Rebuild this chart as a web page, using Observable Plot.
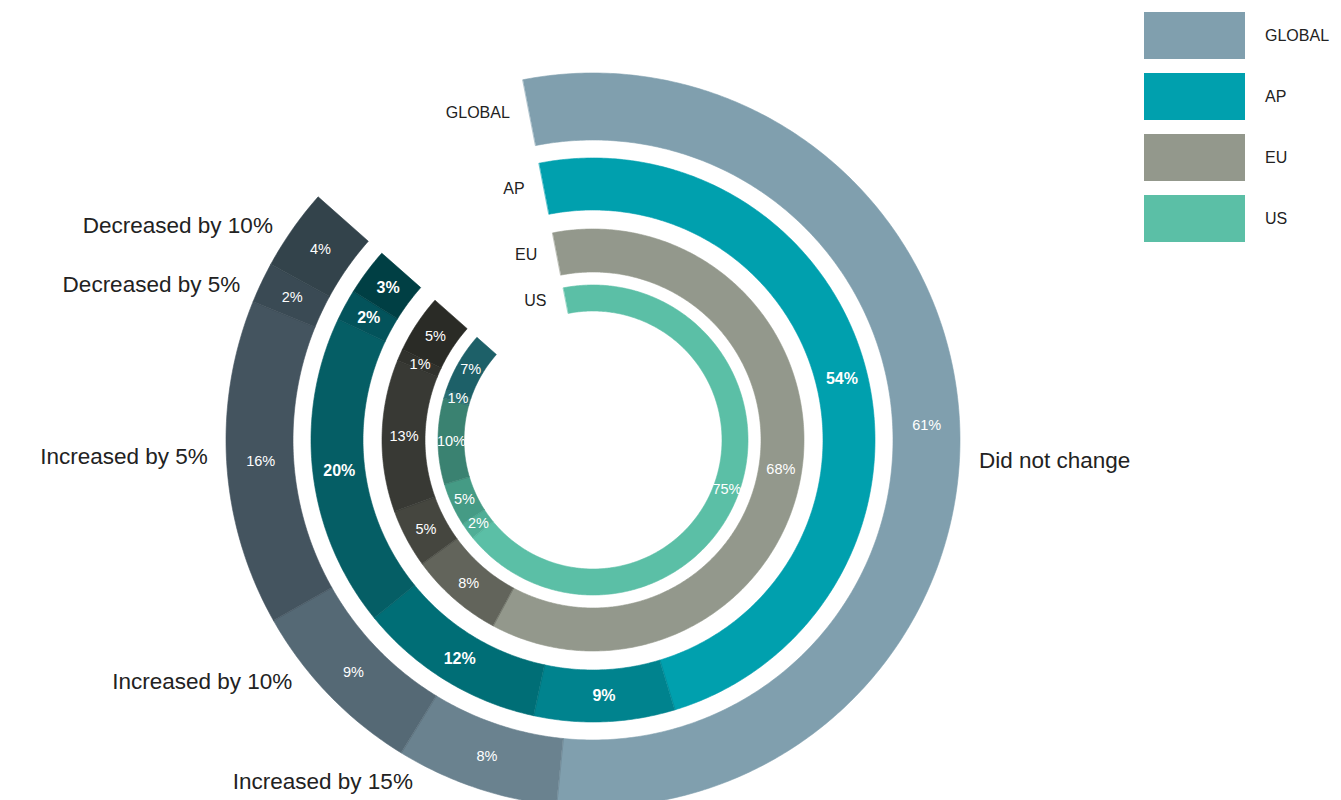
<!DOCTYPE html>
<html>
<head>
<meta charset="utf-8">
<script src="https://cdn.jsdelivr.net/npm/d3@7"></script>
<script src="https://cdn.jsdelivr.net/npm/@observablehq/plot@0.6"></script>
<style>
  body { margin: 0; background: #fff; font-family: "Liberation Sans", Arial, sans-serif; }
  #wrap { position: relative; width: 1341px; height: 800px; overflow: hidden; }
  #legend { position: absolute; left: 1144px; top: 12px; }
  .li { display: flex; align-items: center; height: 47px; margin-bottom: 14px; }
  .sw { width: 101px; height: 47px; }
  .lt { margin-left: 20px; font-size: 16px; color: #222; }
</style>
</head>
<body>
<div id="wrap"><div id="chart"></div><div id="legend"></div></div>
<script>
// ---- data ----
const regions = ["GLOBAL", "AP", "EU", "US"];
const categories = ["Did not change", "Increased by 15%", "Increased by 10%", "Increased by 5%", "Decreased by 5%", "Decreased by 10%"];
const globalValues = [61, 8, 9, 16, 2, 4];
const apValues     = [54, 9, 12, 20, 2, 3];
const euValues     = [68, 8, 5, 13, 1, 5];
const usValues     = [75, 2, 5, 10, 1, 7];

// ---- styles ----
const regionColors = ["#809fae", "#00a0ae", "#93988c", "#5bbfa6"];
const shades = {
  GLOBAL: ["#809fae", "#6a828f", "#556975", "#44545f", "#3a4a54", "#33434b"],
  AP:     ["#00a0ae", "#00838e", "#006e76", "#055e65", "#03535b", "#003f44"],
  EU:     ["#93988c", "#62645b", "#45463f", "#383934", "#31322d", "#2a2b26"],
  US:     ["#5bbfa6", "#50ae96", "#459b85", "#3a8271", "#2a6e71", "#1d6068"]
};
const ringRadii = { GLOBAL: [300, 367], AP: [230, 282], EU: [168, 211], US: [129, 155] };
const cx = 593, cy = 440, W = 1341, H = 800;

const valuesByRegion = [globalValues, apValues, euValues, usValues];
const angle = d3.scaleLinear().domain([0, 100]).range([-11 * Math.PI / 180, 311.5 * Math.PI / 180]);

const segments = [];
regions.forEach((reg, i) => {
  let cum = 0;
  valuesByRegion[i].forEach((v, j) => {
    segments.push({ region: reg, category: categories[j], value: v, start: cum, end: cum + v, color: shades[reg][j] });
    cum += v;
  });
});

// annular sectors as areas between inner and outer arcs
const arcRows = segments.flatMap(s => {
  const [ri, ro] = ringRadii[s.region];
  const a0 = angle(s.start), a1 = angle(s.end);
  const n = Math.max(2, Math.ceil((a1 - a0) / 0.01));
  return d3.range(n + 1).map(k => {
    const a = a0 + (a1 - a0) * k / n;
    return { key: s.region + "|" + s.category, color: s.color,
             xi: ri * Math.sin(a), yi: -ri * Math.cos(a), xo: ro * Math.sin(a), yo: -ro * Math.cos(a) };
  });
});

const valueLabels = segments.map(s => {
  const [ri, ro] = ringRadii[s.region];
  const a = angle((s.start + s.end) / 2), r = (ri + ro) / 2;
  return { region: s.region, x: r * Math.sin(a), y: -r * Math.cos(a), label: s.value + "%" };
});

const catLabels = categories.map((c, j) => {
  const mids = segments.filter(s => s.category === c).map(s => (s.start + s.end) / 2);
  const a = angle(d3.mean(mids)), R = 386;
  return { label: c, x: R * Math.sin(a), y: -R * Math.cos(a), right: Math.sin(a) > 0 };
});

const ringLabels = regions.map(reg => {
  const [ri, ro] = ringRadii[reg];
  const a = angle(0), r = (ri + ro) / 2;
  return { label: reg, x: r * Math.sin(a), y: -r * Math.cos(a) };
});

const chart = Plot.plot({
  width: W, height: H, margin: 0,
  style: { fontFamily: "'Liberation Sans', Arial, sans-serif", background: "transparent" },
  x: { domain: [-cx, W - cx], range: [0, W], axis: null },
  y: { domain: [-cy, H - cy], range: [0, H], axis: null },
  color: { type: "identity" },
  marks: [
    Plot.area(arcRows, { x1: "xi", y1: "yi", x2: "xo", y2: "yo", z: "key", fill: "color", stroke: "color", strokeWidth: 0.6, curve: "linear" }),
    Plot.text(valueLabels.filter(d => d.region !== "AP"), { x: "x", y: "y", text: "label", fill: "white", fontSize: 14.5 }),
    Plot.text(valueLabels.filter(d => d.region === "AP"), { x: "x", y: "y", text: "label", fill: "white", fontSize: 16, fontWeight: "bold" }),
    Plot.text(catLabels.filter(d => d.right), { x: "x", y: "y", text: "label", fill: "#222", fontSize: 22.5, textAnchor: "start" }),
    Plot.text(catLabels.filter(d => !d.right), { x: "x", y: "y", text: "label", fill: "#222", fontSize: 22.5, textAnchor: "end" }),
    Plot.text(ringLabels, { x: "x", y: "y", text: "label", fill: "#222", fontSize: 16, textAnchor: "end", dx: -20 })
  ]
});
document.getElementById("chart").appendChild(chart);

// legend
const legend = d3.select("#legend");
regions.forEach((reg, i) => {
  const row = legend.append("div").attr("class", "li");
  row.append("div").attr("class", "sw").style("background", regionColors[i]);
  row.append("div").attr("class", "lt").text(reg);
});
</script>
</body>
</html>
